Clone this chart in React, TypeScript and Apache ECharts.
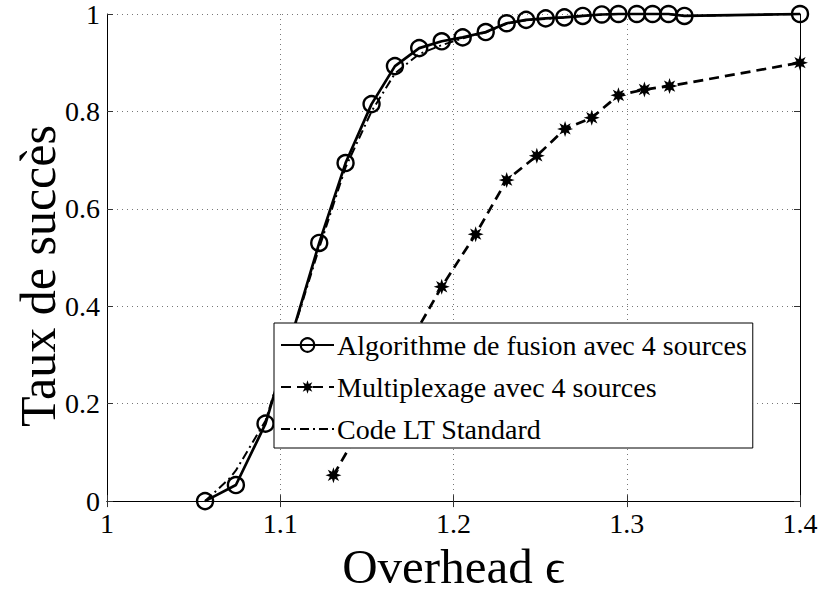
import React, { useEffect, useRef } from "react";
import * as echarts from "echarts";

// ---- data ----
const fusionX = [1.0566, 1.0744, 1.0915, 1.1225, 1.1377, 1.1527, 1.1662, 1.1802, 1.1932, 1.2053, 1.2186, 1.2307, 1.2419, 1.2532, 1.264, 1.2746, 1.2856, 1.2952, 1.3058, 1.3149, 1.3241, 1.3333, 1.4];
const fusionY = [0, 0.033, 0.159, 0.53, 0.694, 0.815, 0.893, 0.93, 0.944, 0.952, 0.963, 0.981, 0.988, 0.991, 0.993, 0.996, 0.999, 1.0, 1.0, 1.0, 1.0, 0.996, 1.0];

const multiX = [1.1307, 1.1932, 1.2128, 1.2307, 1.2481, 1.2644, 1.2798, 1.2952, 1.3102, 1.3247, 1.4];
const multiY = [0.053, 0.44, 0.548, 0.659, 0.709, 0.764, 0.787, 0.833, 0.845, 0.852, 0.9];

const ltX = [1.0566, 1.0703, 1.0744, 1.0915, 1.1225, 1.1377, 1.1527, 1.1662, 1.1802, 1.1932, 1.2053, 1.2186, 1.2307, 1.2419, 1.2532, 1.264, 1.2746, 1.2856, 1.2952, 1.3058, 1.3149, 1.3241, 1.3333, 1.4];
const ltY = [0, 0.045, 0.063, 0.165, 0.52, 0.685, 0.8, 0.878, 0.918, 0.936, 0.95, 0.962, 0.98, 0.987, 0.99, 0.993, 0.996, 0.999, 1.0, 1.0, 1.0, 1.0, 0.996, 1.0];

const seriesNames = [
  "Algorithme de fusion avec 4 sources",
  "Multiplexage avec 4 sources",
  "Code LT Standard",
];

const xTicks = { min: 1, max: 1.4, interval: 0.1 };
const yTicks = { min: 0, max: 1, interval: 0.2 };

const xLabel = "Overhead \u03F5";
const yLabel = "Taux de succès";

const FONT = "Liberation Serif";

function zip(xs: number[], ys: number[]) {
  return xs.map((x, i) => [x, ys[i]]);
}

function asteriskPath() {
  const pts: string[] = [];
  for (let i = 0; i < 16; i++) {
    const a = (i * Math.PI) / 8 - Math.PI / 2;
    const r = i % 2 === 0 ? 10 : 4.8;
    pts.push((10 + r * Math.cos(a)).toFixed(2) + " " + (10 + r * Math.sin(a)).toFixed(2));
  }
  return "path://M" + pts.join(" L") + " Z";
}

const fmt = (v: number) => String(Math.round(v * 10) / 10);

export default function App() {
  const ref = useRef<HTMLDivElement>(null);
  useEffect(() => {
    document.body.style.margin = "0";
    const chart = echarts.init(ref.current!, undefined, { renderer: "svg" });
    const axisLine = { show: true, lineStyle: { color: "#000", width: 1 } };
    const tick = { show: true, inside: true, length: 6, lineStyle: { color: "#333", width: 1 } };
    chart.setOption({
      animation: false,
      backgroundColor: "#fff",
      textStyle: { fontFamily: FONT },
      grid: { left: 107, right: 23, top: 13, bottom: 81, containLabel: false },
      graphic: [
        {
          type: "text",
          x: 38,
          y: 276,
          rotation: Math.PI / 2,
          style: {
            text: yLabel,
            fill: "#000",
            font: "50px Liberation Serif",
            align: "center",
            verticalAlign: "middle",
          },
        },
      ],
      xAxis: [
        {
          type: "value",
          position: "bottom",
          ...xTicks,
          axisLine,
          axisTick: tick,
          axisLabel: { formatter: fmt, color: "#000", fontFamily: FONT, fontSize: 28, margin: 8 },
          splitLine: { show: true, lineStyle: { color: "#777", type: [1, 4], width: 1 } },
          name: xLabel,
          nameLocation: "middle",
          nameGap: 31,
          nameTextStyle: { color: "#000", fontFamily: FONT, fontSize: 49 },
        },
        {
          type: "value",
          position: "top",
          ...xTicks,
          axisLine,
          axisTick: tick,
          axisLabel: { show: false },
          splitLine: { show: false },
        },
      ],
      yAxis: [
        {
          type: "value",
          position: "left",
          ...yTicks,
          axisLine,
          axisTick: tick,
          axisLabel: { formatter: fmt, color: "#000", fontFamily: FONT, fontSize: 28, margin: 7 },
          splitLine: { show: true, lineStyle: { color: "#777", type: [1, 4], width: 1 } },
        },
        {
          type: "value",
          position: "right",
          ...yTicks,
          axisLine,
          axisTick: tick,
          axisLabel: { show: false },
          splitLine: { show: false },
        },
      ],
      legend: {
        orient: "vertical",
        left: 274,
        top: 323,
        data: seriesNames,
        backgroundColor: "#fff",
        borderColor: "#000",
        borderWidth: 1,
        borderRadius: 0,
        padding: [8, 6, 5, 6],
        itemGap: 14,
        itemWidth: 53,
        itemHeight: 17,
        textStyle: { color: "#000", fontFamily: FONT, fontSize: 28, lineHeight: 28, padding: [0, 0, 0, -2] },
      },
      series: [
        {
          name: seriesNames[0],
          type: "line",
          data: zip(fusionX, fusionY),
          symbol: "circle",
          symbolSize: 16,
          clip: false,
          itemStyle: { color: "rgba(255,255,255,0)", borderColor: "#000", borderWidth: 2.4 },
          lineStyle: { color: "#000", width: 2.7 },
          z: 3,
        },
        {
          name: seriesNames[1],
          type: "line",
          data: zip(multiX, multiY),
          symbol: asteriskPath(),
          symbolSize: 16,
          clip: false,
          itemStyle: { color: "#000", borderWidth: 0 },
          lineStyle: { color: "#000", width: 2.7, type: [10, 6] },
          z: 3,
        },
        {
          name: seriesNames[2],
          type: "line",
          data: zip(ltX, ltY),
          symbol: "none",
          clip: false,
          itemStyle: { color: "rgba(0,0,0,0)", borderWidth: 0 },
          lineStyle: { color: "#000", width: 2, type: [9, 4, 2, 4] },
          z: 2,
        },
      ],
    });
    return () => chart.dispose();
  }, []);
  return <div ref={ref} style={{ width: 823, height: 596, position: "absolute", left: 0, top: 0 }} />;
}
